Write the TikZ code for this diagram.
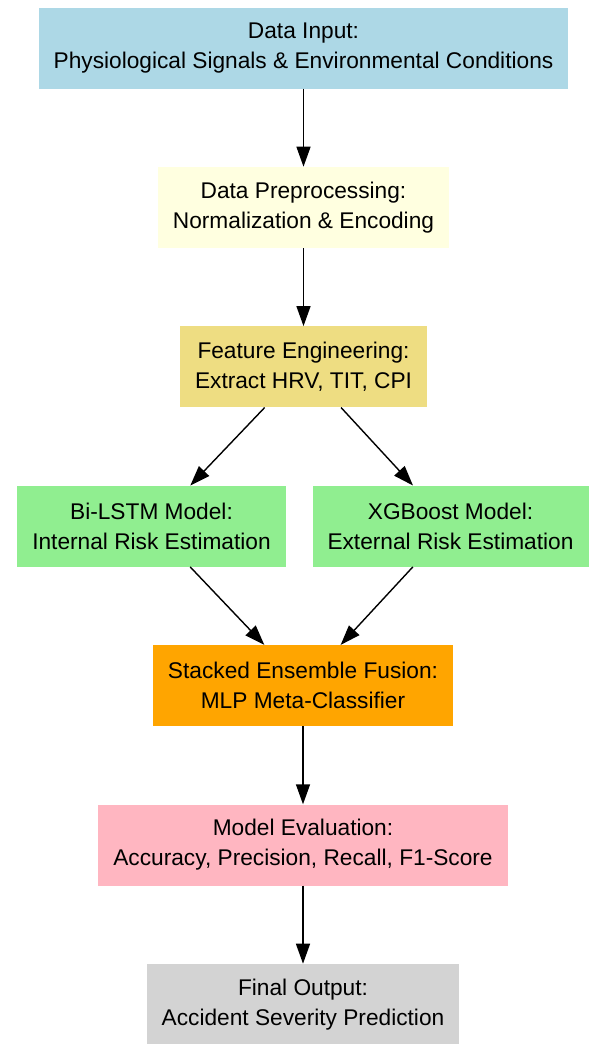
\documentclass[tikz,border=0pt]{standalone}
\usepackage{fontspec}
\setmainfont{Liberation Sans}
\usepackage{tikz}
\usetikzlibrary{positioning, arrows.meta}
\definecolor{inputblue}{HTML}{ADD8E6}
\definecolor{prepyellow}{HTML}{FFFFE0}
\definecolor{featkhaki}{HTML}{EEDD82}
\definecolor{modelgreen}{HTML}{90EE90}
\definecolor{fuseorange}{HTML}{FFA500}
\definecolor{evalpink}{HTML}{FFB6C1}
\definecolor{outgray}{HTML}{D3D3D3}
\tikzset{
>={Triangle[length=20pt, width=14pt]}, % filled triangle heads
node distance=78pt, % gap between stacked boxes
stage/.style={rectangle, align=center, minimum height=81pt, inner xsep=15pt,
  font=\fontsize{22.7}{30}\selectfont}, % every box in the flow
flow/.style={->, line width=1.4pt, black}, % the connectors
}
\begin{document}
\begin{tikzpicture}[x=1pt, y=1pt]
  \useasboundingbox (0,0) rectangle (593,-1044);
  \node[stage, fill=inputblue] (input) at (303.5,-48)
    {Data Input:\\Physiological Signals \& Environmental Conditions};
  \node[stage, fill=prepyellow, below=of input] (prep)
    {Data Preprocessing:\\Normalization \& Encoding};
  \node[stage, fill=featkhaki, below=of prep] (feat)
    {Feature Engineering:\\Extract HRV, TIT, CPI};
  \node[stage, fill=modelgreen, below=of feat, xshift=-152pt] (bilstm)
    {Bi-LSTM Model:\\Internal Risk Estimation};
  \node[stage, fill=modelgreen, below=of feat, xshift=147pt] (xgb)
    {XGBoost Model:\\External Risk Estimation};
  \node[stage, fill=fuseorange, below=of bilstm, xshift=151.5pt] (fusion)
    {Stacked Ensemble Fusion:\\MLP Meta-Classifier};
  \node[stage, fill=evalpink, below=of fusion] (eval)
    {Model Evaluation:\\Accuracy, Precision, Recall, F1-Score};
  \node[stage, fill=outgray, below=of eval] (output)
    {Final Output:\\Accident Severity Prediction};

  \draw[flow] (input) -- (prep);
  \draw[flow] (prep) -- (feat);
  \draw[flow] (feat) -- (bilstm);
  \draw[flow] (feat) -- (xgb);
  \draw[flow] (bilstm) -- (fusion);
  \draw[flow] (xgb) -- (fusion);
  \draw[flow] (fusion) -- (eval);
  \draw[flow] (eval) -- (output);
\end{tikzpicture}
\end{document}
